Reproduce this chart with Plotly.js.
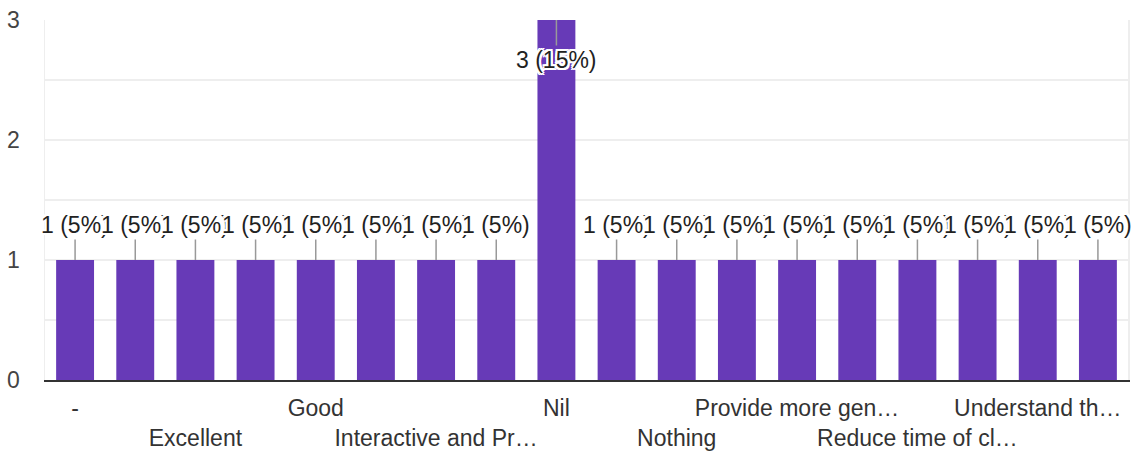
<!DOCTYPE html>
<html>
<head>
<meta charset="utf-8">
<script src="https://cdn.plot.ly/plotly-3.0.1.min.js"></script>
<style>
  html, body { margin: 0; padding: 0; background: #fff; }
  #chart { width: 1132px; height: 451px; }
</style>
</head>
<body>
<div id="chart"></div>
<script>
// Responses per answer (only every other category label is visible in the reference)
const tickLabels = ['-', '', 'Excellent', '', 'Good', '', 'Interactive and Pr\u2026', '', 'Nil', '',
                    'Nothing', '', 'Provide more gen\u2026', '', 'Reduce time of cl\u2026', '', 'Understand th\u2026', ''];
const counts = [1, 1, 1, 1, 1, 1, 1, 1, 3, 1, 1, 1, 1, 1, 1, 1, 1, 1];
const yTickValues = [0, 1, 2, 3];

const positions = counts.map((_, i) => i);
const total = counts.reduce((a, b) => a + b, 0);
const maxVal = Math.max(...yTickValues);

const FONT = '"Liberation Sans", Arial, sans-serif';
const halo = '2px 2px 0 #fff, -2px -2px 0 #fff, 2px -2px 0 #fff, -2px 2px 0 #fff, 0 2px 0 #fff, 0 -2px 0 #fff, 2px 0 0 #fff, -2px 0 0 #fff';

// Visible tick labels alternate between two rows
const shownVals = [], shownText = [];
let row = 0;
tickLabels.forEach((t, i) => {
  if (t !== '') {
    shownVals.push(i);
    shownText.push(row % 2 === 0 ? t : ' <br>' + t);
    row++;
  }
});

const annotations = counts.map((v, i) => {
  const inside = v >= maxVal;
  return {
    x: i, y: v, xref: 'x', yref: 'y',
    text: v + ' (' + Math.round(v / total * 100) + '%)',
    showarrow: true, arrowhead: 0, arrowwidth: 1.5, arrowcolor: '#999',
    ax: 0, ay: inside ? 40 : -35,
    font: { family: FONT, size: 23, color: '#222', shadow: halo },
    bgcolor: 'rgba(0,0,0,0)'
  };
});

const trace = {
  type: 'bar',
  x: positions,
  y: counts,
  marker: { color: '#673ab7' },
  hoverinfo: 'none'
};

const layout = {
  width: 1132, height: 451,
  margin: { l: 45, r: 4, t: 20, b: 71, pad: 0 },
  paper_bgcolor: '#fff', plot_bgcolor: '#fff',
  bargap: 0.37,
  showlegend: false,
  font: { family: FONT, color: '#333' },
  xaxis: {
    type: 'linear',
    range: [-0.5, counts.length - 0.5],
    tickmode: 'array', tickvals: shownVals, ticktext: shownText,
    tickangle: 0,
    tickfont: { family: FONT, size: 23, color: '#333' },
    ticks: '', showgrid: false, zeroline: false,
    showline: true, linecolor: '#333', linewidth: 2,
    ticklabelstandoff: 6
  },
  yaxis: {
    range: [0, maxVal],
    tickmode: 'array', tickvals: yTickValues,
    tickfont: { family: FONT, size: 23, color: '#444' },
    ticks: '', showgrid: true, gridcolor: '#eeeeee', gridwidth: 1.5,
    minor: { dtick: 0.5, showgrid: true, gridcolor: '#eeeeee', gridwidth: 1.5 },
    zeroline: false,
    showline: true, mirror: true, linecolor: '#eeeeee', linewidth: 1.5,
    ticklabelstandoff: 19
  },
  annotations: annotations
};

Plotly.newPlot('chart', [trace], layout, { displayModeBar: false, staticPlot: true });
</script>
</body>
</html>
